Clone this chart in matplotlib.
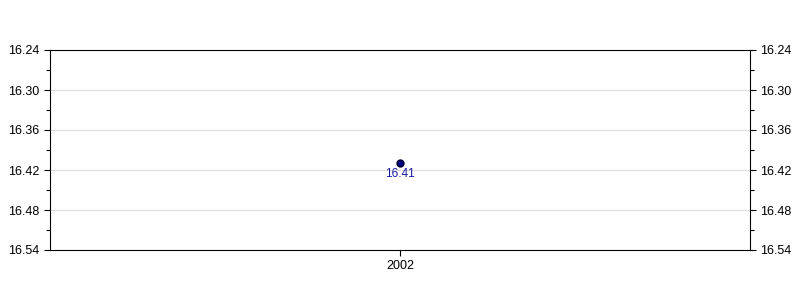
import matplotlib
matplotlib.use("Agg")
import matplotlib.pyplot as plt
from matplotlib.ticker import FixedLocator

years = [2002]
values = [16.41]
y_ticks = [16.24, 16.30, 16.36, 16.42, 16.48, 16.54]
y_minor = [16.27, 16.33, 16.39, 16.45, 16.51]

plt.rcParams["font.family"] = ["Liberation Sans", "DejaVu Sans"]
plt.rcParams["font.size"] = 9

fig = plt.figure(figsize=(8, 3), dpi=100)
ax = fig.add_axes([0.0625, 1/6, 0.875, 2/3])

ax.plot(years, values, "o", color="#000080", markeredgecolor="#000033",
        markersize=5, zorder=3)
for x, v in zip(years, values):
    ax.annotate(f"{v:.2f}", (x, v), xytext=(0, -8), textcoords="offset points",
                ha="center", va="center", color="#1a1aa6", fontsize=8.5)

ax.set_xlim(2001, 2003)
ax.set_xticks(years)
ax.set_xticklabels([str(y) for y in years])
ax.set_ylim(y_ticks[-1], y_ticks[0])
ax.set_yticks(y_ticks)
ax.set_yticklabels([f"{t:.2f}" for t in y_ticks])
ax.yaxis.set_minor_locator(FixedLocator(y_minor))
ax.grid(axis="y", which="major", color="#dddddd", lw=0.8)
ax.set_axisbelow(True)
ax.tick_params(axis="y", which="both", left=True, right=True,
               labelleft=True, labelright=True, direction="out",
               length=4, width=0.8, colors="black")
ax.tick_params(axis="y", which="minor", length=3)
ax.tick_params(axis="x", direction="out", length=4, width=0.8)
for s in ax.spines.values():
    s.set_linewidth(0.8)

fig.savefig("out.png", dpi=100)
